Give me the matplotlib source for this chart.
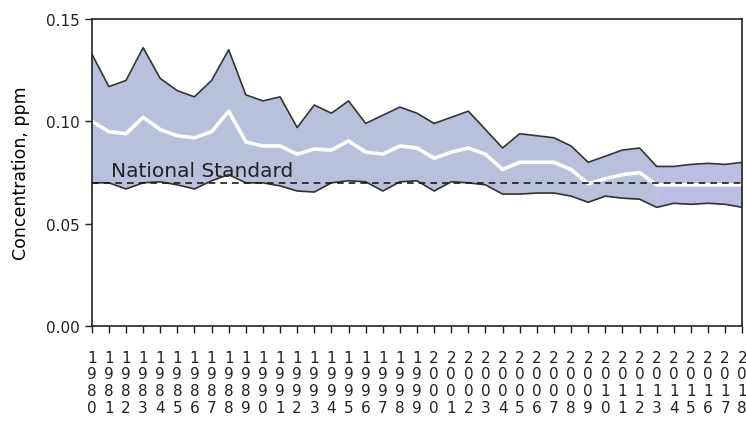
import matplotlib.pyplot as plt
import numpy as np

years = list(range(1980, 2019))

upper = [0.133, 0.117, 0.120, 0.136, 0.121, 0.115, 0.112, 0.120, 0.135, 0.113,
         0.110, 0.112, 0.097, 0.108, 0.104, 0.110, 0.099, 0.103, 0.107, 0.104,
         0.099, 0.102, 0.105, 0.096, 0.087, 0.094, 0.093, 0.092, 0.088, 0.080,
         0.083, 0.086, 0.087, 0.078, 0.078, 0.079, 0.0795, 0.079, 0.080]
mean = [0.100, 0.095, 0.094, 0.102, 0.096, 0.093, 0.092, 0.095, 0.105, 0.090,
        0.088, 0.088, 0.084, 0.0865, 0.086, 0.0905, 0.085, 0.084, 0.088, 0.087,
        0.082, 0.085, 0.087, 0.084, 0.0765, 0.080, 0.080, 0.080, 0.0765, 0.0695,
        0.072, 0.074, 0.075, 0.069, 0.069, 0.069, 0.069, 0.069, 0.069]
lower = [0.070, 0.070, 0.067, 0.070, 0.0705, 0.069, 0.067, 0.071, 0.074, 0.070,
         0.070, 0.0685, 0.066, 0.0655, 0.070, 0.071, 0.0705, 0.066, 0.0705, 0.071,
         0.066, 0.0705, 0.070, 0.069, 0.0645, 0.0645, 0.065, 0.065, 0.0635, 0.0605,
         0.0635, 0.0625, 0.062, 0.058, 0.060, 0.0595, 0.060, 0.0595, 0.058]
standard = 0.070

x = np.array(years)
up = np.array(upper)
lo = np.array(lower)

fig = plt.figure(figsize=(7.46, 4.27), dpi=100)
ax = fig.add_axes([0.123, 0.234, 0.872, 0.719])

ax.fill_between(x, lo, up, where=x <= 2013, color="#b9c0dc", linewidth=0)
ax.fill_between(x, lo, up, where=x >= 2013, color="#bcbde2", linewidth=0)
ax.plot(x, up, color="#333333", lw=1.2)
ax.plot(x, lo, color="#333333", lw=1.2)
ax.plot(x, mean, color="white", lw=2.6)
ax.axhline(standard, color="#1a1a1a", lw=1.2, ls=(0, (4, 3)))
ax.text(1981.1, standard + 0.0033, "National Standard", fontsize=14.5, color="#222222",
        va="baseline", ha="left")

ax.set_xlim(1980, 2018)
ax.set_ylim(0, 0.15)
ax.set_yticks([0.00, 0.05, 0.10, 0.15])
ax.set_yticklabels(["0.00", "0.05", "0.10", "0.15"], fontsize=11)
ax.set_xticks(years)
ax.set_xticklabels(["\n".join(str(y)) for y in years], fontsize=11, linespacing=1.15)
ax.tick_params(direction="out", length=5, width=1, colors="#222222")
ax.tick_params(axis="x", pad=12)
ax.set_ylabel("Concentration, ppm", fontsize=12.5, labelpad=12)

for s in ax.spines.values():
    s.set_linewidth(1.2)
    s.set_color("#222222")

fig.savefig("out.png", dpi=100)
